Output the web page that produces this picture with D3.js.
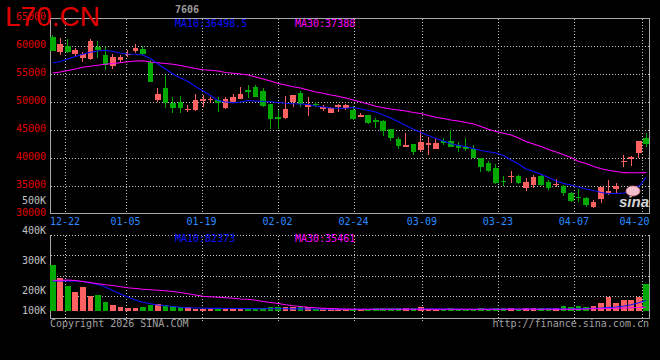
<!DOCTYPE html>
<html><head><meta charset="utf-8">
<script src="https://cdn.jsdelivr.net/npm/d3@7/dist/d3.min.js"></script>
<style>html,body{margin:0;padding:0;background:#000;} svg{display:block;}</style>
</head><body><svg id="c" width="660" height="360"></svg>
<script>
const dates = ["12-18","12-19","12-22","12-23","12-24","12-25","12-26","12-29","12-30","12-31",
"01-05","01-06","01-07","01-08","01-09","01-12","01-13","01-14","01-15","01-16",
"01-19","01-20","01-21","01-22","01-23","01-26","01-27","01-28","01-29","01-30",
"02-02","02-03","02-04","02-05","02-06","02-09","02-10","02-11","02-12","02-13",
"02-24","02-25","02-26","02-27","03-02","03-03","03-04","03-05","03-06","03-09",
"03-10","03-11","03-12","03-13","03-16","03-17","03-18","03-19","03-20","03-23",
"03-24","03-25","03-26","03-27","03-30","03-31","04-01","04-02","04-03","04-07",
"04-08","04-09","04-10","04-13","04-14","04-15","04-16","04-17","04-20","04-21"];

const open = [61660,58980,60000,58630,57910,57680,59880,58390,56480,57500,
58480,59110,59460,57200,50360,52550,49880,49950,48570,48570,
50230,50360,50360,48870,49950,50540,52140,52730,51960,49640,
47270,47140,50050,51660,49160,49640,48870,48090,49280,48930,
48570,47380,47620,46730,46550,45120,43340,42020,42500,41430,
42380,41660,43090,43090,42320,42020,41550,40050,39160,38160,
35950,36550,36790,34590,35180,36790,35770,35180,35000,33800,
33090,32860,31300,32620,33800,34460,39290,39950,40950,43660];

const close = [59160,60360,58880,59340,58520,60890,59290,56610,58090,58040,
58660,59590,58570,53620,51480,49880,48980,48980,48750,50360,
50480,50540,49770,50480,50950,51430,51840,50950,49290,46910,
47020,48750,51250,49640,49410,49410,49050,48870,49410,49460,
46960,47730,46300,46550,44880,43520,42140,42320,41070,42860,
42620,42730,42730,42020,41730,41550,40050,38450,37730,35480,
35770,36790,35590,35770,36660,35180,34590,35360,33800,32380,
32860,31610,32200,34880,34110,35000,39460,40120,43090,42500];

const high = [61960,61380,61250,59700,58980,61250,60890,59880,58520,58390,
59290,60300,60050,57500,52550,54820,50950,51070,49460,51430,
51250,50950,50840,50840,51430,52730,53040,53040,52450,49640,
48570,51070,51250,51960,50950,50050,49460,49160,49640,49640,
49290,47980,47730,47090,46790,45120,43700,44410,42500,45000,
43800,43520,43520,45000,42910,43520,42320,40050,39520,38930,
36790,37730,36960,36370,36960,36960,36070,36200,35180,33980,
34410,33090,32500,34880,36070,35480,40540,40360,43090,44410];

const low = [59020,58390,58700,58270,57090,57500,57910,55710,55890,56910,
58090,58700,58390,53520,50050,48980,48090,47980,48160,48450,
49050,49880,48270,48700,49770,50480,50660,50840,49050,45230,
45230,47050,49110,49050,47500,49160,48450,48040,48210,48570,
46790,47270,46070,45300,43930,43090,41660,42020,40540,41130,
40540,41660,42320,42020,41130,41300,39950,37550,37550,35360,
35000,35590,35360,34160,34590,35000,34290,34880,33210,32200,
32200,31300,31020,31910,33390,33800,38450,38570,39950,42020];

const ma10 = [56960,57230,57680,58130,58520,58880,59110,59230,59020,58750,
58570,58520,58390,57770,56790,55890,55000,54290,53660,52770,
51960,51160,50270,50000,49880,50000,50270,50180,50090,50050,
49910,49770,49680,49640,49550,49290,49110,48930,48880,48880,
49020,48750,48480,48210,47680,47140,46480,45800,45130,44550,
44020,43480,43040,42550,42230,42050,41700,41340,41110,40890,
40450,39640,38930,38040,37590,37090,36520,35890,35450,35180,
34820,34460,34200,33840,33660,33660,33750,34200,34900,36498.5];

const ma30 = [55180,55360,55630,55890,56200,56380,56550,56750,56880,57020,
57180,57320,57360,57140,57020,56880,56730,56520,56250,55980,
55770,55660,55540,55270,55130,55000,54820,54460,54110,53750,
53300,53040,52730,52500,52140,51790,51550,51250,51020,50710,
50360,50000,49640,49230,48980,48750,48570,48390,48130,47950,
47590,47290,47050,46790,46610,46340,46070,45630,45130,44730,
44410,44110,43570,42950,42500,42050,41520,41070,40590,40090,
39380,39020,38480,38090,37820,37590,37380,37360,37360,37388];

// volume in K
const volume = [286.7,243.3,216.7,195,212.3,175,178.5,145,130,120,
115,115,120,130,135,128.5,125,118.5,118.5,111.5,
111.5,108.5,108.5,108.5,108.5,115,115,111.5,115,121.5,
118.5,121.5,118.5,118.5,118.5,111.5,111.5,115,110,111.5,
110,107.5,110,115,115,115,115,115,115,121.5,
108.5,108.5,110,115,110,107.5,110,115,108.5,115,
115,115,108.5,115,115,115,115,115,125,121.5,
125,118.5,125,141.5,170,141.5,155,155,170,223.3];

const volMa10 = [232.3,233.3,234.3,233.3,231.7,226.7,221.7,213.3,201.7,185,
170,155,143.5,136.5,130,126.5,122.5,118.5,116.5,115,
113.5,113,113,112.5,112.5,112,112,112,111.5,111.5,
111,111,110.5,110.5,110,110,109.5,109.5,109.5,109,
109,109,109,109.5,109.5,109.5,110,110,110,110,
110,109.5,109.5,109.5,109.5,109,109,109,109.5,109.5,
110,110,110,110,110,110,110.5,110.5,110,110,
111.5,112.5,113.5,115,117.5,120,125,131.5,141.5,152.5];

const volMa30 = [235.7,236,236.7,235,231.7,228.3,224.3,221,218.3,214.3,
211,208.3,206,204,202.3,201,197.5,192.5,186.5,180,
174,171.5,169,166.5,163.5,160,158.5,153.5,147.5,142.5,
137.5,131.5,126.5,122.5,118.5,116,114,112.5,110.5,109.5,
109,108.5,108.5,109,109,109,108.5,108.5,109,109,
109,108.5,108.5,108.5,109,109,109,108.5,108.5,109,
109,109,108.5,108.5,109,109,109,109,108.5,109,
109,110,111,111.5,112.5,113.5,115,116,117.5,118.5];

const priceTicks = [65000,60000,55000,50000,45000,40000,35000,30000];
const volTicks = [500,400,300,200,100];
const volTickLabels = ["500K","400K","300K","200K","100K"];
const dateTicks = ["12-22","01-05","01-19","02-02","02-24","03-09","03-23","04-07","04-20"];

const title = "L70.CN";
const stamp = "7606";
const maPriceLabels = ["MA10:36498.5","MA30:37388"];
const maVolLabels = ["MA10:82373","MA30:35461"];

const RED = "#ff6060", GREEN = "#00aa00", BLUE = "#1010ff", MAG = "#ff00ff";
const mono = "'DejaVu Sans Mono', monospace";
const gridColor = "#c4c4c4", frameColor = "#a8a8a8";

const svg = d3.select("#c");
svg.append("rect").attr("width",660).attr("height",360).attr("fill","#000");

const x = d3.scaleBand().domain(dates).range([49,650]).paddingInner(0.25).paddingOuter(0.125);
const cx = d => x(d) + x.bandwidth()/2;
const y = d3.scaleLinear().domain([30000,65000]).range([214,18]);
const gridX = d3.scaleLinear().domain([0,80]).range([49.5,657.5]);
const vY = d3.scaleLinear().domain([100,200,300,400]).range([311,291,261,231]);
const vGrid = d3.scaleLinear().domain([0,4]).range([235,316]);

const g = svg.append("g");

// horizontal grid - price
g.selectAll("line.hg").data(priceTicks.filter(v => v < 65000 && v > 30000)).enter().append("line")
  .attr("x1",51).attr("x2",649).attr("y1",v=>Math.round(y(v))+0.5).attr("y2",v=>Math.round(y(v))+0.5)
  .attr("stroke",gridColor).attr("stroke-dasharray","1,2");
// horizontal grid - volume
g.selectAll("line.vg").data([0,1,2,3]).enter().append("line")
  .attr("x1",51).attr("x2",649).attr("y1",k=>Math.round(vGrid(k))+0.5).attr("y2",k=>Math.round(vGrid(k))+0.5)
  .attr("stroke",gridColor).attr("stroke-dasharray","1,2");
// vertical grid
const vgDates = dateTicks.filter(d => gridX(dates.indexOf(d)) < 646);
vgDates.forEach(d => {
  const gx = Math.round(gridX(dates.indexOf(d))) + 0.5;
  g.append("line").attr("x1",gx).attr("x2",gx).attr("y1",19).attr("y2",213)
    .attr("stroke",gridColor).attr("stroke-dasharray","1,2");
  g.append("line").attr("x1",gx).attr("x2",gx).attr("y1",236).attr("y2",321)
    .attr("stroke",gridColor).attr("stroke-dasharray","1,2");
});

// frames
const fr = svg.append("g").attr("stroke",frameColor).attr("shape-rendering","crispEdges");
fr.append("line").attr("x1",50).attr("x2",650).attr("y1",18.5).attr("y2",18.5);
fr.append("line").attr("x1",50.5).attr("x2",50.5).attr("y1",18).attr("y2",214);
fr.append("line").attr("x1",649.5).attr("x2",649.5).attr("y1",18).attr("y2",214);
fr.append("line").attr("x1",50).attr("x2",650).attr("y1",213.5).attr("y2",213.5).attr("stroke-width",1.5);
fr.append("line").attr("x1",50.5).attr("x2",50.5).attr("y1",235).attr("y2",319);
fr.append("line").attr("x1",649.5).attr("x2",649.5).attr("y1",235).attr("y2",319);
fr.append("line").attr("x1",50).attr("x2",650).attr("y1",318.5).attr("y2",318.5).attr("stroke-width",1.5);

// candles
const idx = d3.range(dates.length);
const cg = svg.append("g").attr("shape-rendering","crispEdges");
cg.selectAll("line.w").data(idx).enter().append("line")
  .attr("x1",i=>Math.floor(cx(dates[i]))+0.5).attr("x2",i=>Math.floor(cx(dates[i]))+0.5)
  .attr("y1",i=>y(high[i])).attr("y2",i=>y(low[i]))
  .attr("stroke",i=>close[i]>=open[i]?RED:GREEN);
cg.selectAll("rect.b").data(idx).enter().append("rect")
  .attr("x",i=>x(dates[i])).attr("width",x.bandwidth())
  .attr("y",i=>Math.min(y(open[i]),y(close[i])))
  .attr("height",i=>Math.max(1.2,Math.abs(y(open[i])-y(close[i]))))
  .attr("fill",i=>close[i]>=open[i]?RED:GREEN);

// volume bars
cg.selectAll("rect.v").data(idx).enter().append("rect")
  .attr("x",i=>x(dates[i])).attr("width",x.bandwidth())
  .attr("y",i=>vY(volume[i])).attr("height",i=>vY(100)-vY(volume[i]))
  .attr("fill",i=>close[i]>=open[i]?RED:GREEN);

// MA lines
const line = scale => d3.line().x((d,i)=>cx(dates[i])).y(d=>scale(d));
svg.append("path").attr("d",line(y)(ma30)).attr("fill","none").attr("stroke",MAG).attr("stroke-width",1.1);
svg.append("path").attr("d",line(y)(ma10)).attr("fill","none").attr("stroke",BLUE).attr("stroke-width",1.1);
svg.append("path").attr("d",line(vY)(volMa10)).attr("fill","none").attr("stroke",BLUE).attr("stroke-width",1.1);
svg.append("path").attr("d",line(vY)(volMa30)).attr("fill","none").attr("stroke",MAG).attr("stroke-width",1.1);

// sina logo
svg.append("ellipse").attr("cx",633).attr("cy",191).attr("rx",7).attr("ry",5)
  .attr("fill","#f3c0cc").attr("stroke","#e07090").attr("stroke-width",0.8);
svg.append("text").attr("x",619).attr("y",207).text("sina")
  .attr("font-family","'Liberation Sans', Arial, sans-serif").attr("font-style","italic")
  .attr("font-weight","bold").attr("font-size",15).attr("fill","#d4d4d4");

// title
svg.append("text").attr("x",5).attr("y",26).text(title)
  .attr("font-family","'Liberation Sans', Arial, sans-serif").attr("font-size",28).attr("fill","#e00000");
svg.append("text").attr("x",175).attr("y",13).text(stamp)
  .attr("font-family",mono).attr("font-size",10).attr("font-weight","bold").attr("fill","#9a9a9a");

// price tick labels
svg.selectAll("text.pt").data(priceTicks).enter().append("text")
  .attr("x",46).attr("y",v=>y(v)+2).attr("text-anchor","end").text(v=>v)
  .attr("font-family",mono).attr("font-size",10).attr("fill","#e00000");
// volume tick labels
svg.selectAll("text.vt").data(volTicks).enter().append("text")
  .attr("x",46).attr("y",v=>vY(v)+3).attr("text-anchor","end").text((v,i)=>volTickLabels[i])
  .attr("font-family",mono).attr("font-size",10).attr("fill","#c0c0c0");
// date labels
svg.selectAll("text.dt").data(dateTicks).enter().append("text")
  .attr("x",d=>Math.max(65,Math.min(634.5,gridX(dates.indexOf(d)))))
  .attr("y",225).attr("text-anchor","middle").text(d=>d)
  .attr("font-family",mono).attr("font-size",10).attr("fill","#2a8cff");

// MA labels
const maColors = [BLUE, MAG];
const maX = [175, 295];
maPriceLabels.forEach((t,i)=>svg.append("text").attr("x",maX[i]).attr("y",27.3).text(t)
  .attr("font-family",mono).attr("font-size",10).attr("fill",maColors[i]));
maVolLabels.forEach((t,i)=>svg.append("text").attr("x",maX[i]).attr("y",242.3).text(t)
  .attr("font-family",mono).attr("font-size",10).attr("fill",maColors[i]));

// footer
svg.append("text").attr("x",50).attr("y",327).text("Copyright 2026 SINA.COM")
  .attr("font-family",mono).attr("font-size",10).attr("fill","#a0a0a0");
svg.append("text").attr("x",649).attr("y",327).attr("text-anchor","end").text("http://finance.sina.com.cn")
  .attr("font-family",mono).attr("font-size",10).attr("fill","#a0a0a0");
</script></body></html>
